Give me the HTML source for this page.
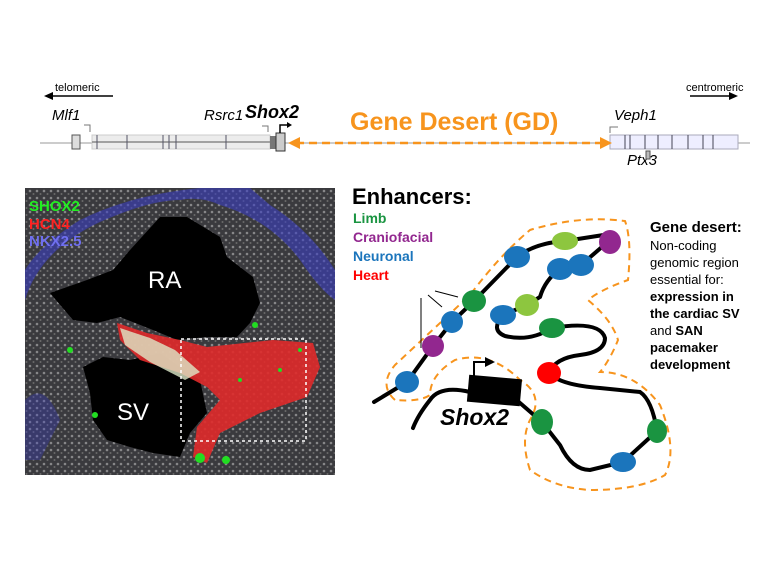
<!DOCTYPE html>
<html><head><meta charset="utf-8"><style>
html,body{margin:0;padding:0;background:#fff;}
svg{display:block;font-family:"Liberation Sans",Arial,sans-serif;}
</style></head><body>
<svg width="768" height="576" viewBox="0 0 768 576" xmlns="http://www.w3.org/2000/svg">
<defs>
<pattern id="dots" width="7" height="7" patternUnits="userSpaceOnUse"><circle cx="2" cy="2" r="1.3" fill="#bbb"/><circle cx="5.5" cy="5" r="1" fill="#888"/></pattern>
</defs>
<!-- genomic track -->
<text x="55" y="91" font-size="11">telomeric</text>
<line x1="113" y1="96" x2="52" y2="96" stroke="#000" stroke-width="1.5"/><path d="M44,96l9,-4v8z"/>
<text x="686" y="91" font-size="11">centromeric</text>
<line x1="690" y1="96" x2="730" y2="96" stroke="#000" stroke-width="1.5"/><path d="M738,96l-9,-4v8z"/>
<text x="52" y="120" font-size="15" font-style="italic">Mlf1</text>
<text x="204" y="120" font-size="15" font-style="italic">Rsrc1</text>
<text x="245" y="118" font-size="18" font-weight="bold" font-style="italic">Shox2</text>
<text x="614" y="120" font-size="15" font-style="italic">Veph1</text>
<text x="627" y="165" font-size="15" font-style="italic">Ptx3</text>
<text x="350" y="130" font-size="25" font-weight="bold" fill="#f7941d">Gene Desert (GD)</text>
<line x1="40" y1="143" x2="750" y2="143" stroke="#999" stroke-width="1"/>
<rect x="92" y="135" width="178" height="14" fill="#ececec" stroke="#ccc"/>
<line x1="92" y1="142" x2="270" y2="142" stroke="#888" stroke-width="1.5"/>
<g stroke="#556" stroke-width="1"><line x1="97" y1="135" x2="97" y2="149"/><line x1="127" y1="135" x2="127" y2="149"/><line x1="163" y1="135" x2="163" y2="149"/><line x1="176" y1="135" x2="176" y2="149"/><line x1="169" y1="135" x2="169" y2="149"/><line x1="226" y1="135" x2="226" y2="149"/></g>
<rect x="72" y="135" width="8" height="14" fill="#ddd" stroke="#555"/>
<rect x="270" y="136" width="6" height="13" fill="#777"/>
<rect x="276" y="133" width="9" height="18" fill="#ccc" stroke="#333"/>
<path d="M280,133v-8h8" fill="none" stroke="#000" stroke-width="1.5"/><path d="M292,125l-5,-3v6z"/>
<path d="M268,132v-6h-6" fill="none" stroke="#777"/><path d="M90,132v-7h-6" fill="none" stroke="#777"/>
<rect x="610" y="135" width="128" height="14" fill="#eef" stroke="#aab"/>
<g stroke="#445" stroke-width="1"><line x1="625" y1="135" x2="625" y2="149"/><line x1="630" y1="135" x2="630" y2="149"/><line x1="645" y1="135" x2="645" y2="149"/><line x1="658" y1="135" x2="658" y2="149"/><line x1="672" y1="135" x2="672" y2="149"/><line x1="688" y1="135" x2="688" y2="149"/><line x1="703" y1="135" x2="703" y2="149"/><line x1="713" y1="135" x2="713" y2="149"/></g>
<path d="M610,133v-6h8" fill="none" stroke="#777"/>
<rect x="646" y="151" width="4" height="8" fill="#bbb" stroke="#555"/>
<line x1="296" y1="143" x2="603" y2="143" stroke="#f7941d" stroke-width="2.5" stroke-dasharray="8,5"/>
<path d="M288,143l12,-6v12z" fill="#f7941d"/><path d="M612,143l-12,-6v12z" fill="#f7941d"/>
<!-- microscopy -->
<rect x="25" y="188" width="310" height="287" fill="#3a3a3e"/>
<rect x="25" y="188" width="310" height="287" fill="url(#dots)" opacity="0.6"/>
<path d="M25,300 Q40,250 100,222 Q150,200 180,200 Q200,196 220,205 Q270,220 300,260 Q320,290 335,300 L335,270 Q310,230 270,205 L250,188 L200,188 Q130,195 80,220 Q40,245 25,270z" fill="#3a3dc0" opacity="0.6"/>
<path d="M25,400 Q45,380 60,420 L40,460 L25,460z" fill="#3a3dc0" opacity="0.35"/>
<path d="M50,293 L87,280 L113,270 L130,250 L160,217 L187,217 L220,237 L227,257 L253,277 L260,303 L250,323 L237,337 L207,337 L177,340 L153,330 L120,317 L97,323 L73,320z" fill="#000"/>
<path d="M83,367 L103,357 L130,360 L160,353 L180,367 L200,380 L207,413 L190,433 L180,457 L153,453 L130,447 L107,440 L93,420 L90,393z" fill="#000"/>
<path d="M117,323 L147,333 L180,340 L207,347 L273,340 L313,343 L320,367 L307,397 L260,413 L220,433 L207,463 L193,457 L197,427 L220,400 L207,387 L180,373 L140,360 L120,340z" fill="#e02a2a" opacity="0.9"/>
<path d="M120,328 L150,338 L175,350 L200,372 L185,380 L150,362 L125,345z" fill="#dde8c8" opacity="0.8"/>
<g fill="#22dd22"><circle cx="200" cy="458" r="5"/><circle cx="226" cy="460" r="4"/><circle cx="70" cy="350" r="3"/><circle cx="95" cy="415" r="3"/><circle cx="255" cy="325" r="3"/><circle cx="240" cy="380" r="2"/><circle cx="280" cy="370" r="2"/><circle cx="300" cy="350" r="2"/></g>
<rect x="181" y="339" width="125" height="102" fill="none" stroke="#fff" stroke-width="1.5" stroke-dasharray="3,3"/>
<text x="29" y="211" font-size="15" font-weight="bold" fill="#22ee22">SHOX2</text>
<text x="29" y="229" font-size="15" font-weight="bold" fill="#ff2222">HCN4</text>
<text x="29" y="246" font-size="15" font-weight="bold" fill="#6f6ff0">NKX2.5</text>
<text x="148" y="288" font-size="24" fill="#fff">RA</text>
<text x="117" y="420" font-size="24" fill="#fff">SV</text>
<!-- right diagram -->
<text x="352" y="204" font-size="22" font-weight="bold">Enhancers:</text>
<text x="353" y="223" font-size="14" font-weight="bold" fill="#1a9441">Limb</text>
<text x="353" y="242" font-size="14" font-weight="bold" fill="#92278f">Craniofacial</text>
<text x="353" y="261" font-size="14" font-weight="bold" fill="#1b75bc">Neuronal</text>
<text x="353" y="280" font-size="14" font-weight="bold" fill="#ff0000">Heart</text>
<g font-size="13"><text x="650" y="232" font-size="15" font-weight="bold">Gene desert:</text>
<text x="650" y="250">Non-coding</text><text x="650" y="267">genomic region</text><text x="650" y="284">essential for:</text>
<text x="650" y="301" font-weight="bold">expression in</text><text x="650" y="318" font-weight="bold">the cardiac SV</text>
<text x="650" y="335"><tspan>and </tspan><tspan font-weight="bold">SAN</tspan></text><text x="650" y="352" font-weight="bold">pacemaker</text><text x="650" y="369" font-weight="bold">development</text></g>
<g fill="none" stroke="#f7941d" stroke-width="2" stroke-dasharray="7,5">
<path d="M395,400 Q378,385 395,365 L470,295 Q500,255 530,230 Q580,215 625,221 Q632,240 628,280 Q600,290 588,300 Q612,320 618,340 Q610,360 600,372 Q635,372 660,405 Q678,450 665,475 Q640,490 590,490 Q555,488 530,470 Q520,440 530,420 Q545,395 520,380 Q490,350 455,360 Q430,375 430,395 Q420,402 395,400"/>
</g>
<g fill="none" stroke="#000" stroke-width="4" stroke-linecap="round">
<path d="M374,402 L407,382 L433,346 L452,322 L474,301 L517,257 Q535,243 565,241 L610,234"/>
<path d="M610,240 L581,265 L560,269 Q545,280 540,297 L527,305 L503,315 Q490,330 505,336 Q530,342 552,328 Q600,320 605,338 Q605,352 580,355 Q555,358 549,373"/>
<path d="M549,373 Q560,385 600,388 L640,392 Q652,400 657,431 L623,462 L590,470 Q572,470 560,445 L542,422 L505,390"/>
<path d="M470,392 Q440,385 430,400 Q418,415 413,428"/>
</g>
<rect x="468" y="377" width="53" height="27" fill="#000" transform="rotate(5 494 390)"/>
<path d="M474,377 v-15 h12" fill="none" stroke="#000" stroke-width="2"/><path d="M495,362 l-10,-5 v10z"/>
<text x="440" y="425" font-size="23" font-weight="bold" font-style="italic">Shox2</text>
<g stroke="#000" stroke-width="1"><line x1="421" y1="298" x2="421" y2="348"/><line x1="428" y1="295" x2="442" y2="307"/><line x1="435" y1="291" x2="458" y2="297"/></g>
<g>
<ellipse cx="517" cy="257" rx="13" ry="11" fill="#1b75bc"/>
<ellipse cx="565" cy="241" rx="13" ry="9" fill="#8dc63f"/>
<ellipse cx="610" cy="242" rx="11" ry="12" fill="#92278f"/>
<ellipse cx="560" cy="269" rx="13" ry="11" fill="#1b75bc"/>
<ellipse cx="581" cy="265" rx="13" ry="11" fill="#1b75bc"/>
<ellipse cx="474" cy="301" rx="12" ry="11" fill="#1a9441"/>
<ellipse cx="527" cy="305" rx="12" ry="11" fill="#8dc63f"/>
<ellipse cx="503" cy="315" rx="13" ry="10" fill="#1b75bc"/>
<ellipse cx="452" cy="322" rx="11" ry="11" fill="#1b75bc"/>
<ellipse cx="552" cy="328" rx="13" ry="10" fill="#1a9441"/>
<ellipse cx="433" cy="346" rx="11" ry="11" fill="#92278f"/>
<ellipse cx="407" cy="382" rx="12" ry="11" fill="#1b75bc"/>
<ellipse cx="549" cy="373" rx="12" ry="11" fill="#ff0000"/>
<ellipse cx="542" cy="422" rx="11" ry="13" fill="#1a9441"/>
<ellipse cx="657" cy="431" rx="10" ry="12" fill="#1a9441"/>
<ellipse cx="623" cy="462" rx="13" ry="10" fill="#1b75bc"/>
</g>
</svg>
</body></html>
